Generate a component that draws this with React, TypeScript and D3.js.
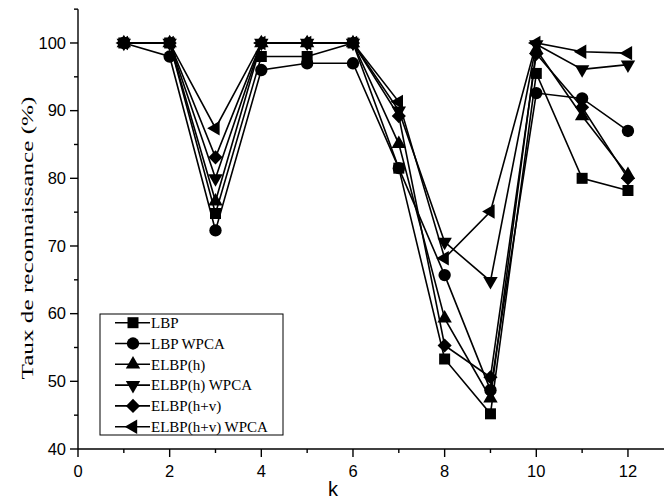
import React from "react";
import * as d3 from "d3";

const kValues = [1, 2, 3, 4, 5, 6, 7, 8, 9, 10, 11, 12];
const seriesNames = ["LBP", "LBP WPCA", "ELBP(h)", "ELBP(h) WPCA", "ELBP(h+v)", "ELBP(h+v) WPCA"];
const lbp = [100, 100, 74.8, 98, 98, 100, 81.5, 53.3, 45.2, 95.5, 80, 78.2];
const lbpWpca = [100, 98, 72.3, 96, 97, 97, 81.5, 65.7, 48.7, 92.6, 91.8, 87];
const elbpH = [100, 100, 76.6, 100, 100, 100, 85.1, 59.3, 47.5, 99, 89.2, 80.5];
const elbpHWpca = [100, 100, 80, 100, 100, 100, 90, 70.6, 64.8, 99.8, 96.1, 96.8];
const elbpHV = [100, 100, 83.1, 100, 100, 100, 89.2, 55.3, 50.6, 98.4, 90.5, 80];
const elbpHVWpca = [100, 100, 87.4, 100, 100, 100, 91.3, 68.2, 75.1, 100, 98.7, 98.5];
const xTicks = [0, 2, 4, 6, 8, 10, 12];
const yTicks = [40, 50, 60, 70, 80, 90, 100];
const xLabel = "k";
const yLabel = "Taux de reconnaissance (%)";

const allSeries = [lbp, lbpWpca, elbpH, elbpHWpca, elbpHV, elbpHVWpca];

// marker: symbol type, rotation, size
const markers = [
  { type: d3.symbolSquare, rot: 0, size: 121 },
  { type: d3.symbolCircle, rot: 0, size: 120 },
  { type: d3.symbolTriangle, rot: 0, size: 90 },
  { type: d3.symbolTriangle, rot: 180, size: 90 },
  { type: d3.symbolSquare, rot: 45, size: 100 },
  { type: d3.symbolTriangle, rot: -90, size: 90 },
];

export default function App() {
  const W = 664;
  const H = 500;
  const x = d3.scaleLinear().domain([0, 13]).range([78, 78 + 13 * 45.83]);
  const y = d3.scaleLinear().domain([40, 105]).range([449, 449 - 65 * 6.767]);
  const line = d3
    .line<number>()
    .x((_, i) => x(kValues[i]))
    .y((d) => y(d));

  const minorX = d3.range(1, 14, 2);
  const minorY = d3.range(45, 106, 10);

  const legX = 100;
  const legY = 314;
  const legW = 183;
  const legH = 121;
  const rowY0 = 322.7;
  const rowStep = 20.8;

  return (
    <svg
      width={W}
      height={H}
      style={{ position: "absolute", left: 0, top: 0, background: "#fff" }}
    >
      <rect x={0} y={0} width={W} height={H} fill="#fff" />
      {/* axes */}
      <line x1={x(0)} x2={W} y1={y(40)} y2={y(40)} stroke="#000" strokeWidth={1.4} />
      <line x1={x(0)} x2={x(0)} y1={y(40)} y2={y(105)} stroke="#000" strokeWidth={1.4} />
      {xTicks.map((t) => (
        <g key={"xt" + t}>
          <line x1={x(t)} x2={x(t)} y1={y(40)} y2={y(40) + 8} stroke="#000" strokeWidth={1.4} />
          <text
            x={x(t)}
            y={477}
            textAnchor="middle"
            fontFamily="Liberation Sans, Arial, sans-serif"
            fontSize={16.5}
          >
            {t}
          </text>
        </g>
      ))}
      {minorX.map((t) => (
        <line key={"xm" + t} x1={x(t)} x2={x(t)} y1={y(40)} y2={y(40) + 4} stroke="#000" strokeWidth={1.4} />
      ))}
      {yTicks.map((t) => (
        <g key={"yt" + t}>
          <line x1={x(0) - 8} x2={x(0)} y1={y(t)} y2={y(t)} stroke="#000" strokeWidth={1.4} />
          <text
            x={66}
            y={y(t)}
            dy="0.35em"
            textAnchor="end"
            fontFamily="Liberation Sans, Arial, sans-serif"
            fontSize={16.5}
          >
            {t}
          </text>
        </g>
      ))}
      {minorY.map((t) => (
        <line key={"ym" + t} x1={x(0) - 4} x2={x(0)} y1={y(t)} y2={y(t)} stroke="#000" strokeWidth={1.4} />
      ))}
      <text
        x={333}
        y={496}
        textAnchor="middle"
        fontFamily="Liberation Sans, Arial, sans-serif"
        fontSize={20}
      >
        {xLabel}
      </text>
      <text
        transform={`translate(33, 238) rotate(-90)`}
        textAnchor="middle"
        fontFamily="Liberation Serif, Times New Roman, serif"
        fontSize={17}
        textLength={283}
        lengthAdjust="spacingAndGlyphs"
      >
        {yLabel}
      </text>

      {/* series */}
      {allSeries.map((s, si) => (
        <g key={"s" + si}>
          <path d={line(s) || ""} fill="none" stroke="#000" strokeWidth={1.6} />
          {s.map((v, i) => (
            <path
              key={i}
              d={d3.symbol().type(markers[si].type).size(markers[si].size)() || ""}
              transform={`translate(${x(kValues[i])},${y(v)}) rotate(${markers[si].rot})`}
              fill="#000"
            />
          ))}
        </g>
      ))}

      {/* legend */}
      <rect x={legX} y={legY} width={legW} height={legH} fill="#fff" stroke="#000" strokeWidth={1} />
      {seriesNames.map((name, i) => {
        const ry = rowY0 + i * rowStep;
        return (
          <g key={"l" + i}>
            <line x1={115} x2={150} y1={ry} y2={ry} stroke="#000" strokeWidth={1.6} />
            <path
              d={d3.symbol().type(markers[i].type).size(markers[i].size)() || ""}
              transform={`translate(133,${ry}) rotate(${markers[i].rot})`}
              fill="#000"
            />
            <text
              x={151}
              y={ry}
              dy="0.35em"
              fontFamily="Liberation Serif, Times New Roman, serif"
              fontSize={15}
            >
              {name}
            </text>
          </g>
        );
      })}
    </svg>
  );
}
